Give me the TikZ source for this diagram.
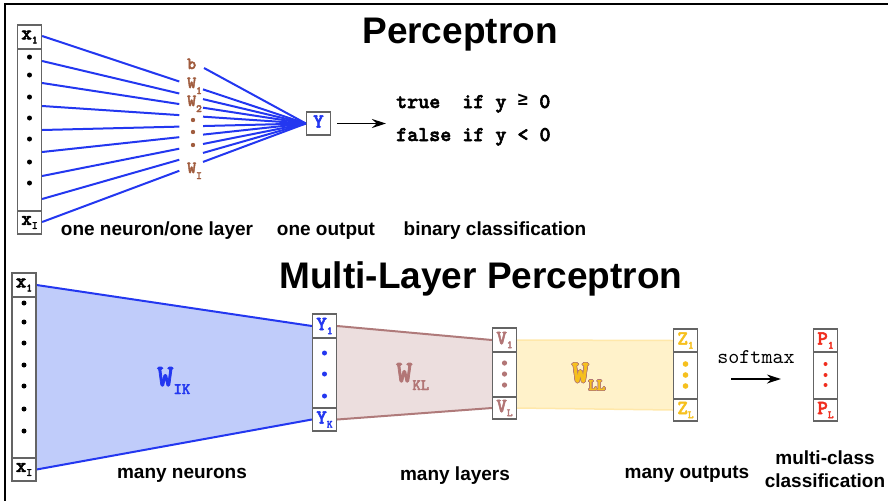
\documentclass[tikz,border=0pt]{standalone}
\usepackage{fontspec}
\setmainfont{Liberation Sans}
\setmonofont{Liberation Mono}
\newfontfamily\courb{lmmonolt10-bold}[Extension=.otf, FakeBold=2.5]
\newfontfamily\cour{lmmono10-regular}[Extension=.otf]
\usepackage{contour}
\usetikzlibrary{arrows.meta,positioning,calc,backgrounds}
\definecolor{netblue}{RGB}{35,55,240}
\definecolor{ikfill}{RGB}{192,204,250}
\definecolor{klline}{RGB}{175,122,122}
\definecolor{klfill}{RGB}{236,222,222}
\definecolor{llline}{RGB}{255,232,170}
\definecolor{llfill}{RGB}{255,242,202}
\definecolor{wbrown}{RGB}{160,92,62}
\definecolor{vrose}{RGB}{178,118,118}
\definecolor{zgold}{RGB}{246,192,30}
\definecolor{pred}{RGB}{240,45,30}
\definecolor{boxgray}{RGB}{100,100,100}
\contourlength{0.6pt}
\newcommand{\cellx}[2]{{\courb\fontsize{20}{20}\selectfont #1\raisebox{-4pt}{\fontsize{11}{11}\selectfont #2}}}
\newcommand{\wsmall}[2]{{\courb\fontsize{17}{17}\selectfont #1\raisebox{-6pt}{\fontsize{11}{11}\selectfont #2}}}
\newcommand{\wbig}[2]{{\courb\fontsize{31}{31}\selectfont #1\raisebox{-8pt}{\fontsize{16}{16}\selectfont #2}}}

\begin{document}
\begin{tikzpicture}[x=1pt,y=-1pt,
  col/.style={draw=boxgray, line width=1.2pt, fill=white, minimum width=24pt, inner sep=0pt},
  cell/.style={draw=boxgray, line width=1.2pt, fill=white, minimum width=24pt, minimum height=24pt, inner sep=0pt},
  wline/.style={netblue, line width=2pt},
  arr/.style={-{Stealth[length=14pt,width=9pt]}, line width=1.5pt},
  title/.style={font=\bfseries\fontsize{37}{37}\selectfont, anchor=base, inner sep=0pt},
  lbl/.style={font=\bfseries\fontsize{19}{19}\selectfont, anchor=base, inner sep=0pt},
  wgt/.style={text=wbrown, anchor=base west, inner sep=0pt}]
\useasboundingbox (0,0) rectangle (888,501);
\draw[line width=2pt] (888,4) -- (5,4) -- (5,501);

% perceptron
\node[title] (ptitle) at (460,43) {Perceptron};

\node[col, minimum height=209pt] (pin) at (29.5,129.5) {};
\node[cell, anchor=north] (px1) at (pin.north) {\cellx{x}{1}};
\node[cell, anchor=south, minimum height=23pt] (pxI) at (pin.south) {\cellx{x}{I}};
\foreach \y in {57,75,97,118,139,162,183}
  \fill (pin |- 0,\y) circle (2.5);

\node[cell, minimum height=23pt] (Y) at (318.5,123.5) {\textcolor{netblue}{\cellx{Y}{}}};

\node[wgt] (b) at (187,69) {\wsmall{b}{}};
\node[wgt] (w1) at (187,88) {\wsmall{W}{1}};
\node[wgt] (w2) at (187,106) {\wsmall{W}{2}};
\node[wgt] (wI) at (187,173) {\wsmall{W}{I}};
\foreach \y in {120,132,145}
  \fill[wbrown] (193,\y) circle (2.2);

\foreach \y [count=\i] in {36,61,83,106,130,152,176,199,222} {
  \coordinate (in\i) at (pin.east |- 0,\y);
  \draw[wline] (in\i) -- ($(in\i)!0.52!(Y.west)$);
  \draw[wline] ($(in\i)!0.61!(Y.west)$) -- (Y.west);
}
\coordinate (bstart) at (204,68);
\draw[wline] (bstart) -- (Y.west);

\node[anchor=base west, inner sep=0pt, font=\courb\fontsize{21}{21}\selectfont] (ruletrue) at (396,108) {true\ \ if y {\ttfamily\bfseries\fontsize{18}{18}\selectfont\raisebox{3pt}{≥}} 0};
\node[anchor=base west, inner sep=0pt, font=\courb\fontsize{21}{21}\selectfont] (rulefalse) at (396,141) {false if y < 0};
\draw[arr, shorten <=6pt, shorten >=10pt] (Y.east) -- (Y.east -| ruletrue.west);

\node[lbl] (lneuron) at (157,235) {one neuron/one layer};
\node[lbl] (loutput) at (326,235) {one output};
\node[lbl] (lbinary) at (495,235) {binary classification};

% multi-layer perceptron
\node[title] (mtitle) at (481,288) {Multi-Layer Perceptron};

\node[col, minimum height=208pt] (min) at (24,377) {};
\node[cell, anchor=north] (mx1) at (min.north) {\cellx{x}{1}};
\node[cell, anchor=south, minimum height=23pt] (mxI) at (min.south) {\cellx{x}{I}};
\foreach \y in {303,322,343,365,386,409,431}
  \fill (min |- 0,\y) circle (2.5);

\node[col, minimum height=117pt] (ycol) at (324.5,372.5) {};
\node[cell, anchor=north] (y1) at (ycol.north) {\textcolor{netblue}{\cellx{Y}{1}}};
\node[cell, anchor=south, minimum height=23pt] (yK) at (ycol.south) {\textcolor{netblue}{\cellx{Y}{K}}};
\foreach \y in {353,374,396}
  \fill[netblue] (ycol |- 0,\y) circle (2.5);

\node[col, minimum height=91pt] (vcol) at (504.5,373.5) {};
\node[cell, anchor=north] (v1) at (vcol.north) {\textcolor{vrose}{\cellx{V}{1}}};
\node[cell, anchor=south, minimum height=22pt] (vL) at (vcol.south) {\textcolor{vrose}{\cellx{V}{L}}};
\foreach \y in {363,374,385}
  \fill[vrose] (vcol |- 0,\y) circle (2.6);

\node[col, minimum height=92pt] (zcol) at (685.5,375) {};
\node[cell, anchor=north, minimum height=23pt] (z1) at (zcol.north) {\textcolor{zgold}{\cellx{Z}{1}}};
\node[cell, anchor=south, minimum height=22pt] (zL) at (zcol.south) {\textcolor{zgold}{\cellx{Z}{L}}};
\foreach \y in {364,375,386}
  \fill[zgold] (zcol |- 0,\y) circle (2.8);

\node[col, minimum height=92pt] (pcol) at (825.5,375) {};
\node[cell, anchor=north, minimum height=23pt] (p1) at (pcol.north) {\textcolor{pred}{\cellx{P}{1}}};
\node[cell, anchor=south, minimum height=22pt] (pL) at (pcol.south) {\textcolor{pred}{\cellx{P}{L}}};
\foreach \y in {364,375,385}
  \fill[pred] (pcol |- 0,\y) circle (2);

\begin{scope}[on background layer]
\fill[ikfill] (mx1.east) -- (y1.west) -- (yK.west) -- (mxI.east) -- cycle;
\draw[wline] (mx1.east) -- (y1.west);
\draw[wline] (mxI.east) -- (yK.west);
\fill[klfill] (y1.east) -- (v1.west) -- (vL.west) -- (yK.east) -- cycle;
\draw[klline, line width=2pt] (y1.east) -- (v1.west);
\draw[klline, line width=2pt] (yK.east) -- (vL.west);
\fill[llfill] (v1.east) -- (z1.west) -- (zL.west) -- (vL.east) -- cycle;
\draw[llline, line width=1.5pt] (v1.east) -- (z1.west);
\draw[llline, line width=1.5pt] (vL.east) -- (zL.west);
\end{scope}

\node[anchor=base west, inner sep=0pt, text=netblue] (wik) at (157,386) {\wbig{W}{IK}};
\node[anchor=base west, inner sep=0pt, text=vrose] (wkl) at (396,382) {\wbig{W}{KL}};
\node[anchor=base west, inner sep=0pt, text=zgold] (wll) at (572,382) {\contour{vrose}{\wbig{W}{LL}}};

\node[anchor=base, inner sep=0pt, font=\cour\fontsize{21}{21}\selectfont] (smax) at (756,363) {softmax};
\draw[arr, shorten <=33pt, shorten >=32pt] ([yshift=-4pt]zcol.east) -- ([yshift=-4pt]pcol.west);

\node[lbl] (lmany) at (182,478) {many neurons};
\node[lbl] (llayers) at (455,480) {many layers};
\node[lbl] (loutputs) at (687,478) {many outputs};
\node[lbl] (lmulti) at (825,464) {multi-class};
\node[lbl] (lclass) at (825,487) {classification};
\end{tikzpicture}
\end{document}
